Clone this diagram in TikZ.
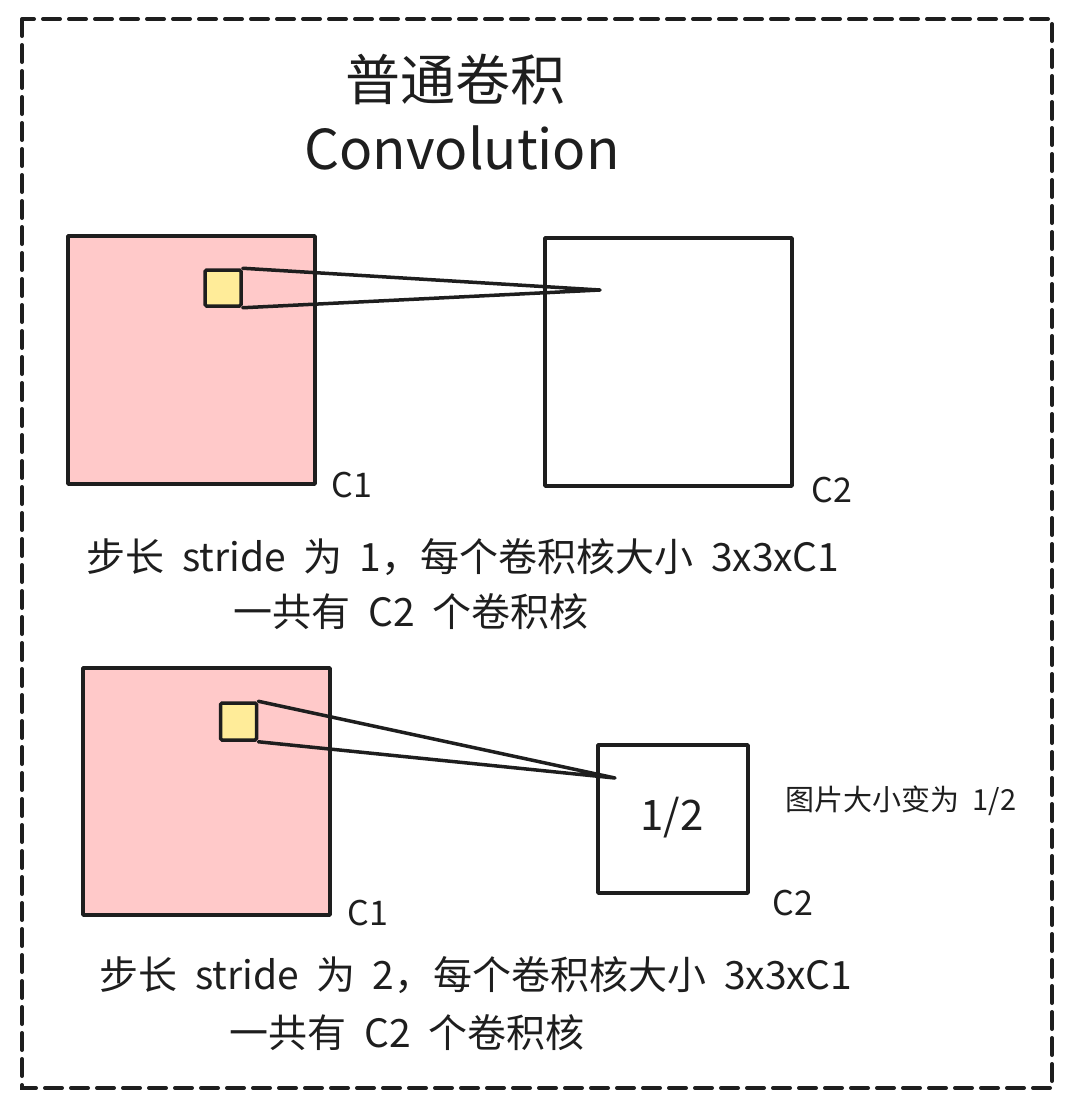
\documentclass[tikz,border=0pt]{standalone}
\usepackage{fontspec}
\newfontfamily\cjk{Noto Sans CJK SC}
\newfontfamily\cjkw[WordSpace=2.0]{Noto Sans CJK SC}
\definecolor{ink}{HTML}{1E1E1E}
\definecolor{pinkfill}{HTML}{FFC9C9}
\definecolor{yellowfill}{HTML}{FFEC99}
\tikzset{
  fmap/.style={draw=ink, line width=3.5pt, fill=pinkfill, inner sep=0pt, line join=round},
  omap/.style={draw=ink, line width=3.5pt, fill=white, inner sep=0pt, line join=round},
  kern/.style={draw=ink, line width=3.5pt, fill=yellowfill, inner sep=0pt, minimum width=36pt, minimum height=36pt, rounded corners=1.5pt},
  conn/.style={draw=ink, line width=3.5pt, line cap=round, line join=round},
  lbl/.style={text=ink, inner sep=0pt, font=\cjk\fontsize{34}{40}\selectfont},
  body/.style={text=ink, inner sep=0pt, font=\cjkw\fontsize{39}{45}\selectfont},
  frame/.style={draw=ink, line width=4pt, dash pattern=on 17pt off 9pt, line cap=round}
}
\begin{document}
\begin{tikzpicture}[x=1pt, y=-1pt]
\useasboundingbox (0,0) rectangle (1071,1109);
\draw[frame] (22,19) rectangle (1052,1088);
% title
\node[text=ink, inner sep=0pt, font=\cjk\fontsize{55}{60}\selectfont] (t1) at (455,80) {普通卷积};
\node[text=ink, inner sep=0pt, font=\cjk\fontsize{55}{62}\selectfont] (t2) at (462,148) {Convolution};
% top row
\node[fmap, minimum width=247pt, minimum height=248pt] (p1) at (191.5,360) {};
\node[omap, minimum width=247pt, minimum height=248pt] (o1) at (668.5,362) {};
\node[kern] (k1) at (223,288) {};
\coordinate (e1) at (600,290);
\draw[conn] (k1.north east) -- (e1) -- (k1.south east);
\node[lbl] (c1a) at (352,485) {C1};
\node[lbl] (c2a) at (832,490) {C2};
\node[body] (s1) at (463,557) {步长 stride 为 1，每个卷积核大小 3x3xC1};
\node[body] (s2) at (411,612) {一共有 C2 个卷积核};
% bottom row
\node[fmap, minimum width=247pt, minimum height=247pt] (p2) at (206.5,791.5) {};
\node[omap, minimum width=150pt, minimum height=148pt] (o2) at (673,819) {};
\node[kern, minimum height=37pt] (k2) at (238.5,721.5) {};
\coordinate (e2) at (615,778);
\draw[conn] (k2.north east) -- (e2) -- (k2.south east);
\node[text=ink, inner sep=0pt, font=\cjk\fontsize{42}{48}\selectfont] (h) at (672,818) {1/2};
\node[text=ink, inner sep=0pt, font=\cjkw\fontsize{29}{34}\selectfont] (note) at (901,801) {图片大小变为 1/2};
\node[lbl] (c1b) at (368,913) {C1};
\node[lbl] (c2b) at (793,903) {C2};
\node[body] (s3) at (476,975) {步长 stride 为 2，每个卷积核大小 3x3xC1};
\node[body] (s4) at (407,1033) {一共有 C2 个卷积核};
\end{tikzpicture}
\end{document}
